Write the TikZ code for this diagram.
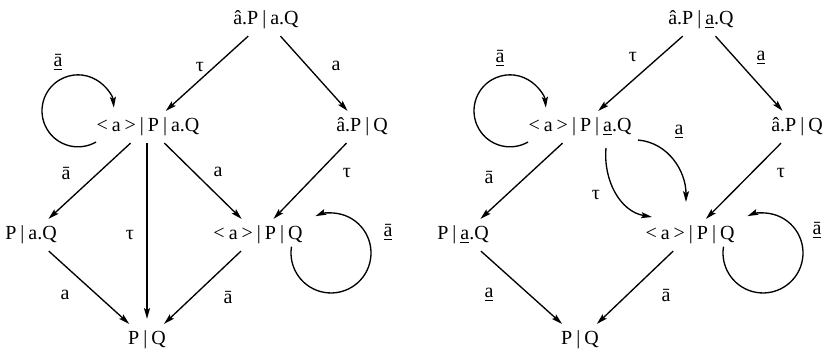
\documentclass[tikz,border=0pt]{standalone}
\usepackage{fontspec}
\setmainfont{Liberation Serif}
\usetikzlibrary{arrows.meta}
\newcommand{\ab}{\=a}
\newcommand{\au}{\underline{a}}
\newcommand{\abu}{\underline{\=a}}
\begin{document}
\begin{tikzpicture}[x=0.6pt, y=0.6pt, font=\fontsize{12}{14}\selectfont,
  state/.style={inner sep=4pt, execute at begin node={\spaceskip=2.4pt\relax}},
  lbl/.style={inner sep=1pt},
  trans/.style={line width=0.8pt, -{Stealth[length=6.5pt,width=3.6pt,inset=1.2pt]}}]
  \useasboundingbox (0,0) rectangle (823,-355);
  % left system
  \node[state] (t1)  at (266,-20)  {\^a.P | a.Q};
  \node[state] (ml1) at (148,-127) {< a > | P | a.Q};
  \node[state] (mr1) at (362,-127) {\^a.P | Q};
  \node[state] (bl1) at (31,-235)  {P | a.Q};
  \node[state] (br1) at (258,-235) {< a > | P | Q};
  \node[state] (b1)  at (147,-340) {P | Q};
  \draw[trans] (t1) -- (ml1);
  \draw[trans] (t1) -- (mr1);
  \draw[trans] (ml1) -- (bl1);
  \draw[trans, shorten >=3pt] (ml1.south -| b1) -- (b1);
  \draw[trans] (ml1) -- (br1);
  \draw[trans] (mr1) -- (br1);
  \draw[trans] (bl1) -- (b1);
  \draw[trans] (br1) -- (b1);
  \draw[trans] ([shift={(-52,-15)}]ml1.center) arc[start angle=-60, end angle=-355, radius=36];
  \draw[trans] ([shift={(33.5,-11.7)}]br1.center) arc[start angle=171, end angle=473, radius=40];
  \node[lbl] (la1) at (200,-67)  {τ};
  \node[lbl] (la2) at (336,-66)  {a};
  \node[lbl] (la3) at (66,-173)  {\ab};
  \node[lbl] (la4) at (130,-235) {τ};
  \node[lbl] (la5) at (218,-172) {a};
  \node[lbl] (la6) at (347,-173) {τ};
  \node[lbl] (la7) at (65,-295)  {a};
  \node[lbl] (la8) at (228,-297) {\ab};
  \node[lbl] (la9) at (58,-62)   {\abu};
  \node[lbl] (la10) at (388,-232) {\abu};
  % right system
  \node[state] (t2)  at (701,-20)  {\^a.P | \au.Q};
  \node[state] (ml2) at (580,-127) {< a > | P | \au.Q};
  \node[state] (mr2) at (797,-127) {\^a.P | Q};
  \node[state] (bl2) at (463,-235) {P | \au.Q};
  \node[state] (br2) at (690,-235) {< a > | P | Q};
  \node[state] (b2)  at (580,-340) {P | Q};
  \draw[trans] (t2) -- (ml2);
  \draw[trans] (t2) -- (mr2);
  \draw[trans] (ml2) -- (bl2);
  \draw[trans] (mr2) -- (br2);
  \draw[trans] (bl2) -- (b2);
  \draw[trans] (br2) -- (b2);
  \draw[trans] ([shift={(58,-13)}]ml2.center) to[out=-5, in=90] ([shift={(-4,33)}]br2.center);
  \draw[trans] ([shift={(26,-21)}]ml2.center) to[out=-95, in=170] ([shift={(-38,18)}]br2.center);
  \draw[trans] ([shift={(-52,-15)}]ml2.center) arc[start angle=-60, end angle=-355, radius=36];
  \draw[trans] ([shift={(33.5,-11.7)}]br2.center) arc[start angle=171, end angle=473, radius=40];
  \node[lbl] (lb1) at (633,-57)  {τ};
  \node[lbl] (lb2) at (761,-58)  {\au};
  \node[lbl] (lb3) at (489,-177) {\ab};
  \node[lbl] (lb4) at (679,-132) {\au};
  \node[lbl] (lb5) at (596,-195) {τ};
  \node[lbl] (lb6) at (781,-173) {τ};
  \node[lbl] (lb7) at (489,-295) {\au};
  \node[lbl] (lb8) at (666,-295) {\ab};
  \node[lbl] (lb9) at (500,-58)  {\abu};
  \node[lbl] (lb10) at (817,-230) {\abu};
\end{tikzpicture}
\end{document}
